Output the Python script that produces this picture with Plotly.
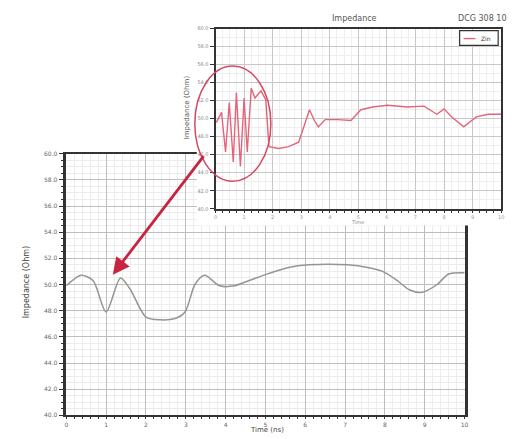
import plotly.graph_objects as go

W, H = 517, 439
OFF = 8                      # default page margin of the html body
FW, FH = W - OFF, H - OFF    # figure size that fits the window

# ---- data ----
main_time = [0.0, 0.37, 0.67, 1.0, 1.36, 1.61, 2.0, 2.36, 2.73, 2.98, 3.23, 3.47,
             3.85, 4.22, 4.59, 5.09, 5.58, 6.08, 7.07, 7.57, 7.94, 8.31, 8.61,
             8.93, 9.31, 9.6, 10.0]
main_value = [49.9, 50.7, 50.3, 47.9, 50.5, 49.6, 47.5, 47.3, 47.4, 47.9, 50.0, 50.7,
              49.9, 49.9, 50.3, 50.85, 51.3, 51.5, 51.5, 51.3, 51.0, 50.3, 49.6,
              49.4, 50.0, 50.8, 50.9]

inset_time = [0.03, 0.21, 0.35, 0.48, 0.62, 0.73, 0.87, 1.0, 1.11, 1.25, 1.38, 1.59,
              1.76, 1.87, 2.21, 2.56, 2.91, 3.15, 3.29, 3.46, 3.6, 3.84, 4.29, 4.74,
              5.09, 5.5, 6.02, 6.71, 7.3, 7.75, 8.0, 8.27, 8.69, 9.13, 9.55, 10.0]
inset_value = [49.6, 50.7, 46.3, 51.8, 45.2, 52.9, 44.7, 52.3, 46.3, 53.4, 52.3, 53.1,
               52.1, 46.9, 46.7, 46.9, 47.4, 49.6, 51.0, 49.8, 49.1, 49.9, 49.9, 49.8,
               51.0, 51.3, 51.5, 51.3, 51.4, 50.5, 51.1, 50.2, 49.1, 50.2, 50.5, 50.5]

y_tick_vals = [40, 42, 44, 46, 48, 50, 52, 54, 56, 58, 60]
y_tick_text = ["40.0", "42.0", "44.0", "46.0", "48.0", "50.0", "52.0", "54.0", "56.0", "58.0", "60.0"]
x_tick_vals = [0, 1, 2, 3, 4, 5, 6, 7, 8, 9, 10]
x_tick_text = ["0", "1", "2", "3", "4", "5", "6", "7", "8", "9", "10"]
legend_label = "Zin"


def px_x(p):
    return (p - OFF) / FW


def px_y(p):
    return 1 - (p - OFF) / FH


fig = go.Figure()

fig.add_trace(go.Scatter(
    x=main_time, y=main_value, mode="lines", xaxis="x", yaxis="y",
    line=dict(color="#939690", width=1.5, shape="spline", smoothing=0.8),
    showlegend=False, name=legend_label))

# empty trace to create a white cover subplot under the inset
fig.add_trace(go.Scatter(x=[None], y=[None], xaxis="x2", yaxis="y2",
                         showlegend=False, hoverinfo="skip"))

fig.add_trace(go.Scatter(
    x=inset_time, y=inset_value, mode="lines", xaxis="x3", yaxis="y3",
    line=dict(color="#e4647c", width=1.4), name=legend_label, showlegend=False))

tickfont = dict(family="DejaVu Sans", size=6, color="#666666")

main_x = dict(
    domain=[px_x(65), px_x(468)], anchor="y", range=[0, 10],
    tickvals=x_tick_vals, ticktext=x_tick_text, tickfont=tickfont,
    showgrid=True, gridcolor="#bdbdbd", gridwidth=1,
    showline=True, linecolor="#333333", linewidth=2, mirror=True,
    ticks="outside", ticklen=2, tickcolor="#333333", zeroline=False,
    minor=dict(dtick=0.2, showgrid=True, gridcolor="#ececec", ticks="outside",
               ticklen=2, tickcolor="#333333"),
)
main_y = dict(
    domain=[px_y(418), px_y(152)], anchor="x", range=[40, 60],
    tickvals=y_tick_vals, ticktext=y_tick_text, tickfont=tickfont,
    showgrid=True, gridcolor="#bdbdbd", gridwidth=1,
    showline=True, linecolor="#333333", linewidth=2.5, mirror=True,
    ticks="outside", ticklen=5, tickcolor="#333333", zeroline=False,
    minor=dict(dtick=0.5, showgrid=True, gridcolor="#ececec", ticks="outside",
               ticklen=3, tickcolor="#333333"),
)

cover_x = dict(domain=[px_x(197), 1.0], anchor="y2", range=[0, 1],
               showgrid=False, showline=False, showticklabels=False,
               zeroline=False, ticks="")
cover_y = dict(domain=[px_y(225), 1.0], anchor="x2", range=[0, 1],
               showgrid=False, showline=False, showticklabels=False,
               zeroline=False, ticks="")

inset_x = dict(
    domain=[px_x(216), px_x(505)], anchor="y3", range=[0, 10],
    tickvals=x_tick_vals, ticktext=x_tick_text,
    tickfont=dict(family="DejaVu Sans", size=5, color="#999999"),
    showgrid=True, gridcolor="#c8c8c8", gridwidth=1,
    showline=True, linecolor="#333333", linewidth=2, mirror=True,
    ticks="outside", ticklen=2, tickcolor="#333333", zeroline=False,
    minor=dict(dtick=0.25, showgrid=True, gridcolor="#efefef", ticks="outside",
               ticklen=2, tickcolor="#333333"),
)
inset_y = dict(
    domain=[px_y(208), px_y(25)], anchor="x3", range=[40, 60],
    tickvals=y_tick_vals, ticktext=y_tick_text,
    tickfont=dict(family="DejaVu Sans", size=5, color="#888888"),
    showgrid=True, gridcolor="#c8c8c8", gridwidth=1,
    showline=True, linecolor="#333333", linewidth=2, mirror=True,
    ticks="outside", ticklen=4, tickcolor="#333333", zeroline=False,
    minor=dict(dtick=1, showgrid=True, gridcolor="#efefef"),
)

fig.update_layout(
    width=FW, height=FH,
    margin=dict(l=0, r=0, t=0, b=0),
    paper_bgcolor="white", plot_bgcolor="white",
    xaxis=main_x, yaxis=main_y,
    xaxis2=cover_x, yaxis2=cover_y,
    xaxis3=inset_x, yaxis3=inset_y,
    showlegend=False,
    font=dict(family="DejaVu Sans"),
)


def label(px, py, text, size=8, color="#555555", angle=0):
    fig.add_annotation(x=px_x(px), y=px_y(py), xref="paper", yref="paper",
                       xanchor="center", yanchor="middle", text=text,
                       textangle=angle, showarrow=False,
                       font=dict(family="DejaVu Sans", size=size, color=color))


label(357, 15, "Impedance", 8, "#555555")
label(486, 15, "DCG 308 10", 8, "#555555")
label(25, 283, "Impedance (Ohm)", 8, "#444444", -90)
label(268, 433, "Time (ns)", 7, "#444444")
label(188, 105, "Impedance (Ohm)", 7, "#555555", -90)
label(360, 221, "Time", 5, "#888888")

# small legend box in the inset
fig.add_shape(type="rect", xref="paper", yref="paper",
              x0=px_x(463), x1=px_x(502), y0=px_y(42), y1=px_y(27),
              fillcolor="white", line=dict(color="#333333", width=1.2),
              layer="above")
fig.add_shape(type="line", xref="paper", yref="paper",
              x0=px_x(467), x1=px_x(479), y0=px_y(35), y1=px_y(35),
              line=dict(color="#e4647c", width=1.4), layer="above")
label(490, 35, legend_label, 6, "#333333")

# highlight ellipse around the oscillation
fig.add_shape(type="circle", xref="paper", yref="paper",
              x0=px_x(195), x1=px_x(272), y0=px_y(180), y1=px_y(63),
              line=dict(color="#d24a64", width=1.5), layer="above")

# arrow from the ellipse to the dip in the main chart (offset in pixels)
fig.add_annotation(x=px_x(112), y=px_y(275), ax=92, ay=-120,
                   xref="paper", yref="paper",
                   text="", showarrow=True, arrowhead=2, arrowsize=1.2,
                   arrowwidth=2.8, arrowcolor="#c8233f")

fig.write_html("out.html")
